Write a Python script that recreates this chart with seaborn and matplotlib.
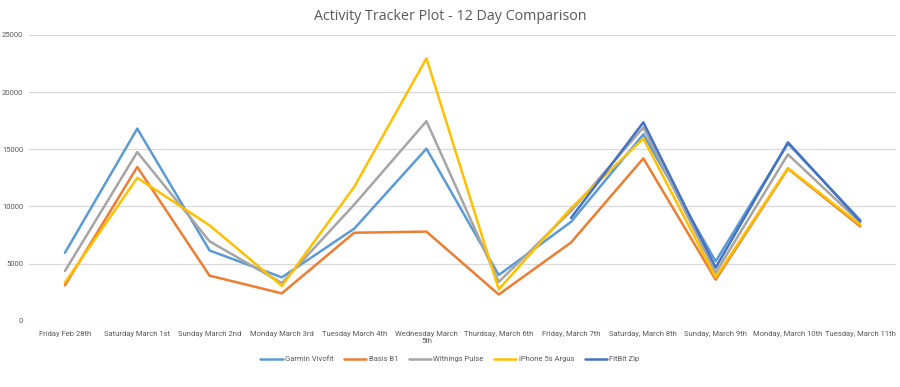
import numpy as np
import pandas as pd
import matplotlib.pyplot as plt
import seaborn as sns

days = ['Friday Feb 28th', 'Saturday March 1st', 'Sunday March 2nd', 'Monday March 3rd',
        'Tuesday March 4th', 'Wednesday March\n5th', 'Thurdsay, March 6th', 'Friday, March 7th',
        'Saturday, March 8th', 'Sunday, March 9th', 'Monday, March 10th', 'Tuesday, March 11th']

garmin = [5950, 16800, 6150, 3800, 8050, 15050, 4000, 8650, 16300, 5200, 15500, 8800]
basis = [3100, 13450, 3950, 2400, 7700, 7800, 2300, 6850, 14200, 3600, 13300, 8250]
withings = [4350, 14750, 6950, 3300, 10150, 17450, 3400, 9600, 16900, 4200, 14550, 8600]
iphone = [3350, 12500, 8350, 3050, 11700, 22950, 2750, 9850, 15950, 3800, 13350, 8400]
fitbit = [np.nan] * 7 + [9000, 17350, 4650, 15600, 8700]

series = ['Garmin Vivofit', 'Basis B1', 'Withings Pulse', 'iPhone 5s Argus', 'FitBit Zip']
colors = ['#5B9BD5', '#ED7D31', '#A5A5A5', '#FFC000', '#4472C4']

df = pd.DataFrame({'day': range(len(days)), 'Garmin Vivofit': garmin, 'Basis B1': basis,
                   'Withings Pulse': withings, 'iPhone 5s Argus': iphone, 'FitBit Zip': fitbit})
long = df.melt(id_vars='day', var_name='device', value_name='steps').dropna()

sns.set_style('white')
plt.rcParams['font.family'] = ['Roboto', 'DejaVu Sans']

fig = plt.figure(figsize=(9, 3.87), dpi=100)
ax = fig.add_axes([0.032, 0.171, 0.964, 0.739])

sns.lineplot(data=long, x='day', y='steps', hue='device', hue_order=series,
             palette=colors, linewidth=1.8, ax=ax, legend=True)

ax.set_xlim(-0.5, len(days) - 0.5)
ax.set_ylim(0, 25000)
ax.set_yticks(range(0, 25001, 5000))
ax.set_xticks(range(len(days)))
ax.set_xticklabels(days, fontsize=5.5, color='#595959', linespacing=1.2)
ax.tick_params(axis='y', labelsize=5.5, labelcolor='#595959', length=0, pad=4)
ax.tick_params(axis='x', length=0, pad=7)
ax.yaxis.grid(True, color='#D9D9D9', linewidth=0.9)
ax.set_axisbelow(True)
for s in ax.spines.values():
    s.set_visible(False)
ax.set_xlabel('')
ax.set_ylabel('')

# legend below the plot, centred on the figure
ax.legend(loc='center', bbox_to_anchor=(0.5, 0.072), bbox_transform=fig.transFigure,
          ncol=5, frameon=False, fontsize=5.5, handlelength=2.9, handletextpad=0.3,
          columnspacing=1.4, labelcolor='#595959')

fig.text(0.5, 0.957, 'Activity Tracker Plot - 12 Day Comparison', ha='center', va='center',
         fontsize=10.3, color='#595959', family=['Open Sans', 'DejaVu Sans'])

fig.savefig('out.png', dpi=100)
